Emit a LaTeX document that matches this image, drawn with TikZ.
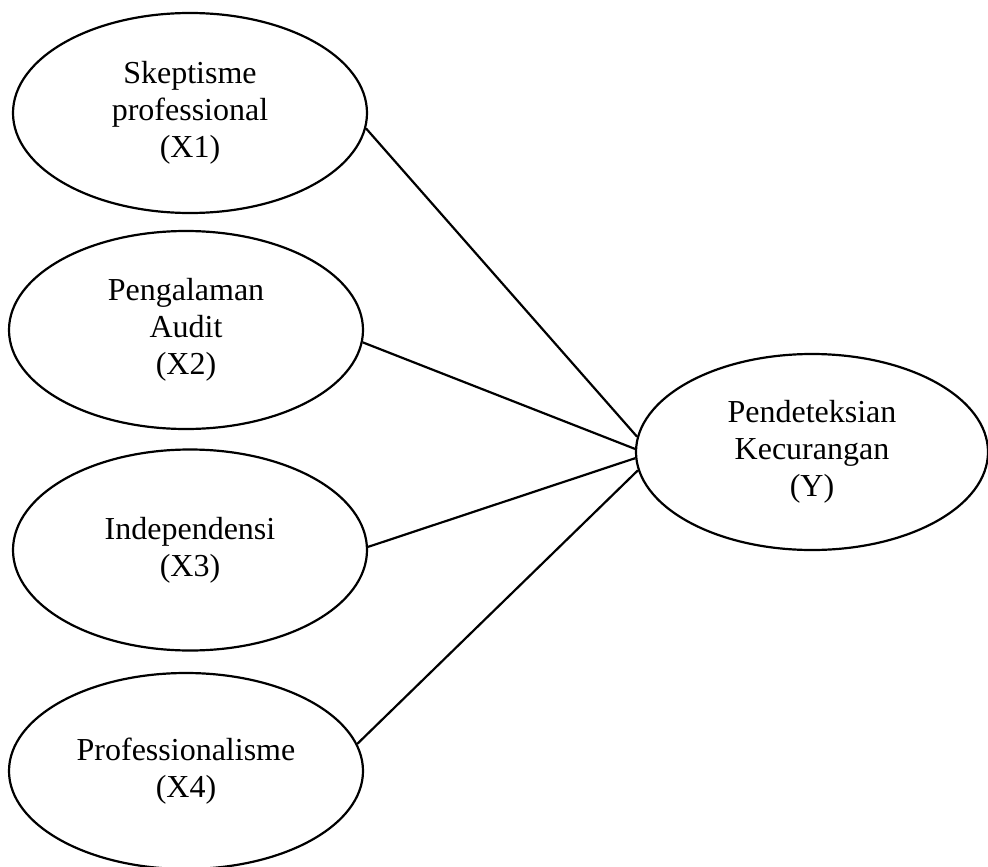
\documentclass[tikz,border=0pt]{standalone}
\usepackage{fontspec}
\setmainfont{Liberation Serif}
\usetikzlibrary{shapes.geometric}
\begin{document}
\begin{tikzpicture}[x=1pt,y=-1pt,
  var/.style={draw, line width=2.2pt, ellipse, inner sep=0pt, align=center,
    font=\fontsize{32}{37}\selectfont},
  link/.style={line width=2.2pt}]
\useasboundingbox (0,0) rectangle (988,867);
\node[var, minimum width=354pt, minimum height=200pt] (x1) at (190,113) {Skeptisme\\professional\\(X1)};
\node[var, minimum width=354pt, minimum height=198pt] (x2) at (186,330) {Pengalaman\\Audit\\(X2)};
\node[var, minimum width=354pt, minimum height=201pt] (x3) at (190,550) {Independensi\\(X3)};
\node[var, minimum width=354pt, minimum height=196pt] (x4) at (186,771) {Professionalisme\\(X4)};
\node[var, minimum width=352pt, minimum height=196pt] (y) at (812,452) {Pendeteksian\\Kecurangan\\(Y)};
\draw[link] (x1.-5) -- (y.175);
\draw[link] (x2.-4) -- (y.179);
\draw[link] (x3.1) -- (y.182);
\draw[link] (x4.9) -- (y.186);
\end{tikzpicture}
\end{document}
